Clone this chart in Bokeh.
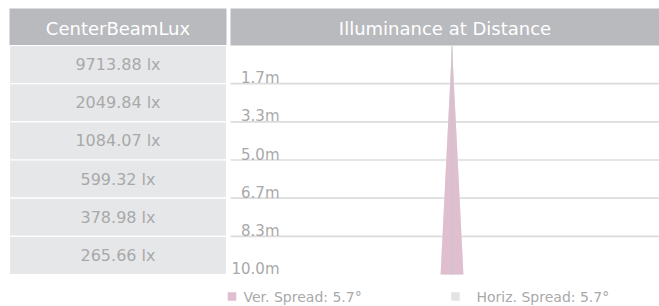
import math
from bokeh.plotting import figure
from bokeh.models import Range1d, ColumnDataSource
from bokeh.core.properties import value
from bokeh.embed import file_html
from bokeh.resources import INLINE

# ---- data ----
header_left = "CenterBeamLux"
header_right = "Illuminance at Distance"
lux_values = [9713.88, 2049.84, 1084.07, 599.32, 378.98, 265.66]
distances = [1.667, 3.333, 5.0, 6.667, 8.333, 10.0]
distance_labels = ["1.7m", "3.3m", "5.0m", "6.7m", "8.3m", "10.0m"]
ver_spread_deg = 5.7
horiz_spread_deg = 5.7
legend_labels = ["Ver. Spread: 5.7°", "Horiz. Spread: 5.7°"]

# ---- styling / layout ----
FONT = "DejaVu Sans"
OFF = 0                # page offset of the figure
W, H = 659, 306
PX = 22.9              # pixels per metre (same scale on both axes)
CX, CY = 451.5, 45.0   # page-pixel position of beam origin

HEADER_BG = "#b9babe"
ROW_BG = "#e6e7e9"
GRID = "#dcdcdc"
PINK = "#dfbfcf"
GREY_BEAM = "#e2e3e5"
TXT = "#a9a9a9"


def dx(page_x):
    return (page_x - CX) / PX


def dy(page_y):
    return (page_y - CY) / PX


p = figure(width=W, height=H, output_backend="svg", toolbar_location=None,
           x_range=Range1d(dx(OFF), dx(OFF + W)), y_range=Range1d(dy(OFF + H), dy(OFF)),
           min_border=0, min_border_left=0, min_border_right=0,
           min_border_top=0, min_border_bottom=0)
p.axis.visible = False
p.grid.visible = False
p.outline_line_color = None
p.background_fill_color = "white"
p.border_fill_color = "white"

tl, tr = dx(9), dx(226)
pl, pr = dx(230), dx(OFF + W + 2)

# headers
p.quad(left=[tl, pl], right=[tr, pr], top=[dy(8), dy(8)], bottom=[0, 0],
       fill_color=HEADER_BG, line_color=None)
p.text(x=[(tl + tr) / 2, (pl + dx(659)) / 2], y=[dy(27.5), dy(27.5)],
       text=[header_left, header_right], text_align="center", text_baseline="middle",
       text_color="white", text_font=value(FONT), text_font_size="18px")

# table rows
tops = [0.0] + distances[:-1]
rows = ColumnDataSource(dict(top=tops, bottom=distances,
                             mid=[(a + b) / 2 for a, b in zip(tops, distances)],
                             label=[f"{v:.2f} lx" for v in lux_values]))
p.quad(left=tl, right=tr, top="top", bottom="bottom", source=rows,
       fill_color=ROW_BG, line_color="white", line_width=1.2)
p.text(x=(tl + tr) / 2, y="mid", text="label", source=rows, text_align="center",
       text_baseline="middle", text_color=TXT, text_font=value(FONT), text_font_size="16px")

# grid lines at distances
gl = distances[:-1]
p.segment(x0=[pl] * len(gl), x1=[pr] * len(gl), y0=gl, y1=gl, line_color=GRID, line_width=1.6)

# distance labels
p.text(x=[dx(279)] * len(distances), y=[d - 5.5 / PX for d in distances], text=distance_labels,
       text_align="right", text_baseline="alphabetic", text_color=TXT,
       text_font=value(FONT), text_font_size="15px")

# beams
dmax = max(distances)
hw_h = dmax * math.tan(math.radians(horiz_spread_deg / 2))
hw_v = dmax * math.tan(math.radians(ver_spread_deg / 2))
p.patch(x=[0, -hw_h, hw_h], y=[0, dmax, dmax], fill_color=GREY_BEAM, line_color=None)
p.patch(x=[0, -hw_v, hw_v], y=[0, dmax, dmax], fill_color=PINK, line_color=None)
p.segment(x0=[0], x1=[0], y0=[0], y1=[dmax], line_color="#c9c5c8", line_width=1)

# legend
p.scatter(x=[dx(231.5), dx(455)], y=[dy(296), dy(296)], marker="square", size=8.5,
          fill_color=[PINK, GREY_BEAM], line_color=None)
p.text(x=[dx(243), dx(476)], y=[dy(296), dy(296)], text=legend_labels,
       text_align="left", text_baseline="middle", text_color=TXT,
       text_font=value(FONT), text_font_size="14px")

open("out.html", "w").write(file_html(p, INLINE))
